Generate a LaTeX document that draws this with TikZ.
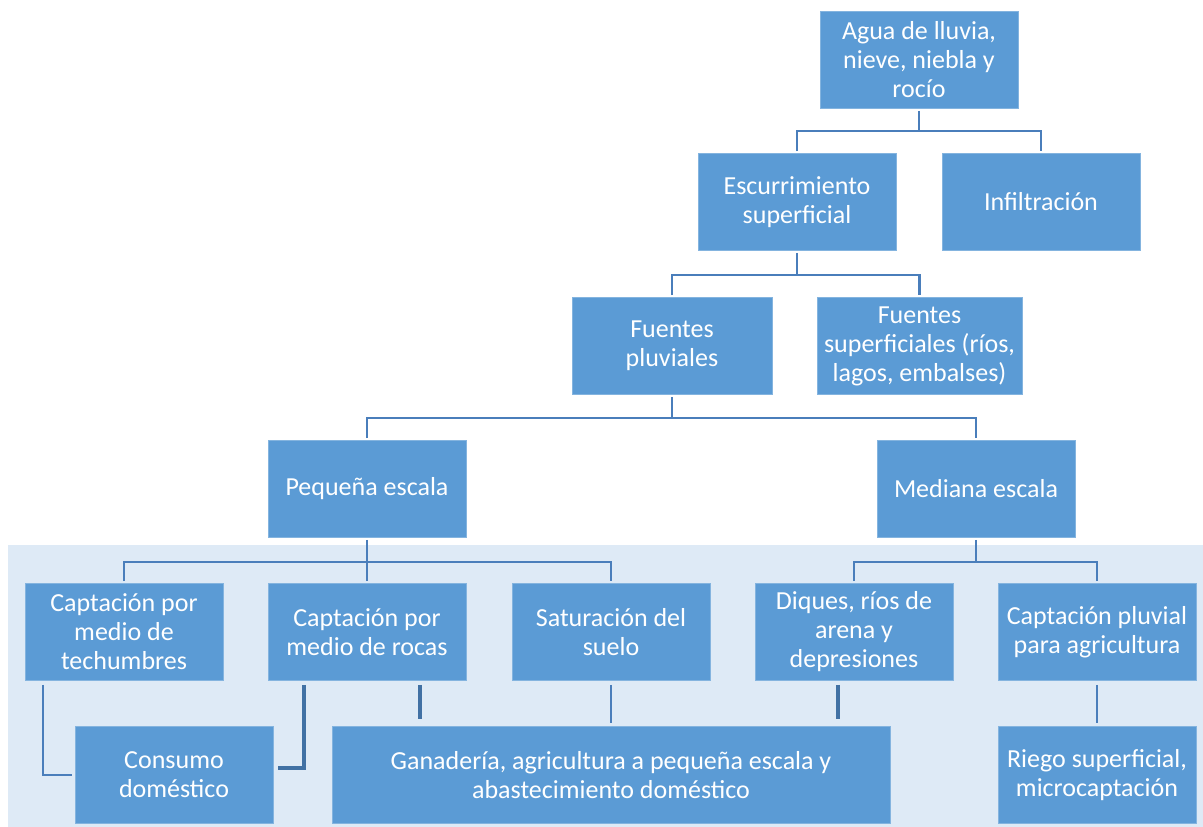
\documentclass[tikz,border=0pt]{standalone}
\usepackage{fontspec}
\setmainfont{Carlito}
\definecolor{boxblue}{RGB}{91,155,213}
\definecolor{bglight}{RGB}{222,234,246}
\definecolor{lineblue}{RGB}{74,126,187}
\definecolor{darkline}{RGB}{65,113,164}
\begin{document}
\begin{tikzpicture}[x=1pt,y=-1pt,
  box/.style={fill=boxblue,draw=boxblue!75!white,line width=0.8pt,text=white,
    minimum width=198pt,minimum height=97pt,inner sep=0pt,align=center,
    font=\fontsize{26}{29}\selectfont},
  conn/.style={draw=lineblue,line width=2.2pt},
  thickconn/.style={draw=darkline,line width=4.5pt}]
\useasboundingbox (0,0) rectangle (1203,827);
\fill[bglight] (8,545) rectangle (1203,827);
% nodes
\node[box] (agua) at (919,60) {Agua de lluvia,\\nieve, niebla y\\rocío};
\node[box] (esc) at (797,202) {Escurrimiento\\superficial};
\node[box] (inf) at (1041,202) {Infiltración};
\node[box,minimum width=200pt] (fpl) at (672,346) {Fuentes\\pluviales};
\node[box,minimum width=205pt] (fsu) at (919.5,346) {Fuentes\\superficiales (ríos,\\lagos, embalses)};
\node[box] (peq) at (367,489) {Pequeña escala};
\node[box] (med) at (976,489) {Mediana escala};
\node[box] (tech) at (124,632) {Captación por\\medio de\\techumbres};
\node[box] (roc) at (367,632) {Captación por\\medio de rocas};
\node[box] (sat) at (611,632) {Saturación del\\suelo};
\node[box] (diq) at (854,632) {Diques, ríos de\\arena y\\depresiones};
\node[box] (cpa) at (1097,632) {Captación pluvial\\para agricultura};
\node[box] (cons) at (174,775) {Consumo\\doméstico};
\node[box,minimum width=558pt] (gan) at (611,775) {Ganadería, agricultura a pequeña escala y\\abastecimiento doméstico};
\node[box] (rie) at (1097,775) {Riego superficial,\\microcaptación};
% tree connectors
\coordinate (b1) at (919,131);
\coordinate (b2) at (797,275);
\coordinate (b3) at (672,418);
\coordinate (b4) at (367,562);
\coordinate (b5) at (976,562);
\draw[conn,shorten <=2pt] (agua.south) -- (b1);
\draw[conn,shorten <=2pt,shorten >=2pt] (esc.north) |- (b1) -| (inf.north);
\draw[conn,shorten <=2pt] (esc.south) -- (b2);
\draw[conn,shorten <=2pt,shorten >=2pt] (fpl.north) |- (b2) -| (fsu.north);
\draw[conn,shorten <=2pt] (fpl.south) -- (b3);
\draw[conn,shorten <=2pt,shorten >=2pt] (peq.north) |- (b3) -| (med.north);
\draw[conn,shorten <=2pt,shorten >=2pt] (peq.south) -- (roc.north);
\draw[conn,shorten <=2pt,shorten >=2pt] (tech.north) |- (b4) -| (sat.north);
\draw[conn,shorten <=2pt] (med.south) -- (b5);
\draw[conn,shorten <=2pt,shorten >=2pt] (diq.north) |- (b5) -| (cpa.north);
% lower connectors
\draw[conn,shorten <=4pt,shorten >=3pt] ([xshift=-81pt]tech.south) |- (cons.west);
\draw[thickconn,shorten <=4pt,shorten >=5pt] ([xshift=-63pt]roc.south) |- ([yshift=7pt]cons.east);
\draw[thickconn,shorten <=4pt,shorten >=7pt] ([xshift=53pt]roc.south) -- ([xshift=-191pt]gan.north);
\draw[conn,shorten <=4pt,shorten >=3pt] (sat.south) -- (gan.north);
\draw[thickconn,shorten <=4pt,shorten >=7pt] ([xshift=-16pt]diq.south) -- ([xshift=227pt]gan.north);
\draw[conn,shorten <=4pt,shorten >=3pt] (cpa.south) -- (rie.north);
\end{tikzpicture}
\end{document}
